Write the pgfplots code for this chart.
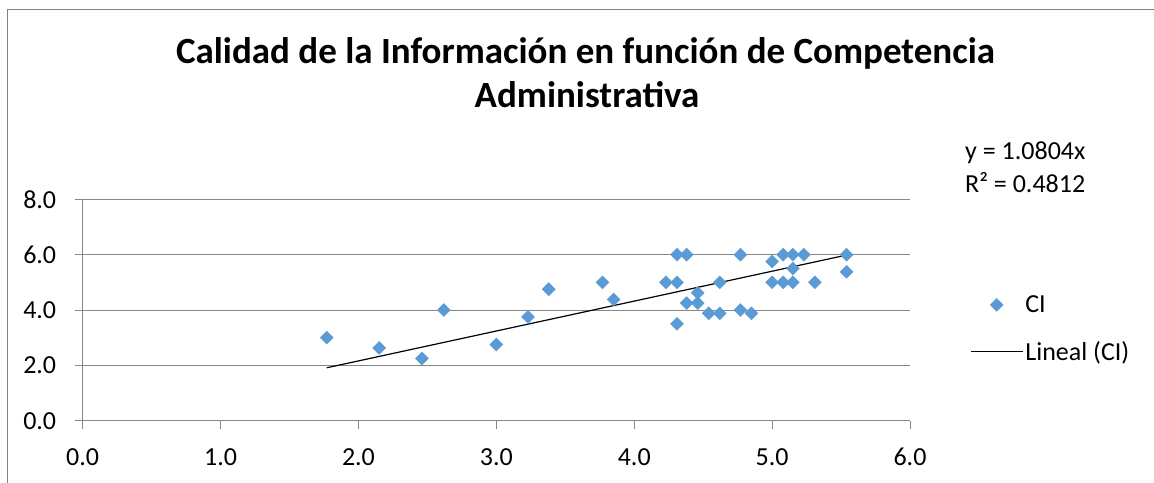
\documentclass[border=0pt]{standalone}
\usepackage{pgfplots}
\pgfplotsset{compat=1.18}
\usepackage{fontspec}
\setmainfont{Carlito}
\definecolor{ciblue}{RGB}{91,155,213}
\definecolor{gridgray}{RGB}{134,134,134}
\definecolor{framegray}{RGB}{130,130,130}

\begin{document}
\begin{tikzpicture}
\path[use as bounding box] (0bp,0bp) rectangle (1154bp,483bp);
\draw[framegray, line width=1.5bp] (7.5bp,0bp) -- (7.5bp,473.5bp) -- (1154bp,473.5bp);
% title
\node[font={\bfseries\fontsize{37bp}{44bp}\selectfont}, anchor=base, inner sep=0] at (585.5bp,419.7bp)
  {Calidad de la Información en función de Competencia};
\node[font={\bfseries\fontsize{37bp}{44bp}\selectfont}, anchor=base, inner sep=0] at (587bp,375.7bp)
  {Administrativa};
% trendline equation
\node[font=\fontsize{26bp}{28bp}\selectfont, anchor=base west, inner sep=0] at (965bp,323bp) {y = 1.0804x};
\node[font=\fontsize{26bp}{28bp}\selectfont, anchor=base west, inner sep=0] at (965bp,290.3bp) {R² = 0.4812};
\begin{axis}[
    at={(82.7bp,62.3bp)}, anchor=origin,
    scale only axis, width=827.3bp, height=221.4bp,
    xmin=0, xmax=6, ymin=0, ymax=8,
    xtick={0,1,...,6}, ytick={0,2,...,8},
    ymajorgrids, grid style={gridgray, line width=0.9bp},
    axis x line=bottom, axis y line=left,
    axis line style={-, draw=gridgray, line width=0.9bp},
    tick style={gridgray, line width=0.9bp},
    tick align=outside, major tick length=8bp,
    tick label style={font=\fontsize{26bp}{30bp}\selectfont},
    /pgf/number format/.cd, fixed, fixed zerofill, precision=1, assume math mode=true,
    /pgfplots/.cd,
    xticklabel style={yshift=-16bp},
    yticklabel style={xshift=-15bp},
    legend style={at={(1.0725,0.416)}, anchor=west, draw=none, fill=none,
      font=\fontsize{26bp}{30bp}\selectfont, row sep=23bp, inner sep=0pt,
      /tikz/every even column/.append style={column sep=5bp}},
    legend cell align=left,
  ]
  \addplot[only marks, mark=square*, mark size=4.6bp,
    mark options={rotate=45, fill=ciblue, draw=ciblue},
    legend image code/.code={\draw[mark repeat=1, mark phase=1] plot coordinates {(26bp,0)};}]
  coordinates {
    (1.77,3.00) (2.15,2.63) (2.46,2.25) (2.62,4.00) (3.00,2.75)
    (3.23,3.75) (3.38,4.75) (3.77,5.00) (3.85,4.38) (4.23,5.00)
    (4.31,6.00) (4.38,6.00) (4.31,5.00) (4.31,3.50) (4.38,4.25)
    (4.46,4.62) (4.46,4.25) (4.54,3.88) (4.62,3.88) (4.62,5.00)
    (4.77,6.00) (4.77,4.00) (4.85,3.88) (5.00,5.75) (5.00,5.00)
    (5.08,6.00) (5.08,5.00) (5.15,6.00) (5.15,5.50) (5.15,5.00)
    (5.23,6.00) (5.31,5.00) (5.54,6.00) (5.54,5.38)
  };
  \addlegendentry{CI}
  \addplot[black, line width=1.2bp,
    legend image code/.code={\draw[black, line width=1.2bp] (0bp,0bp) -- (52bp,0bp);}]
  coordinates {(1.77,1.912) (5.54,5.985)};
  \addlegendentry{Lineal (CI)}
\end{axis}
\end{tikzpicture}
\end{document}
